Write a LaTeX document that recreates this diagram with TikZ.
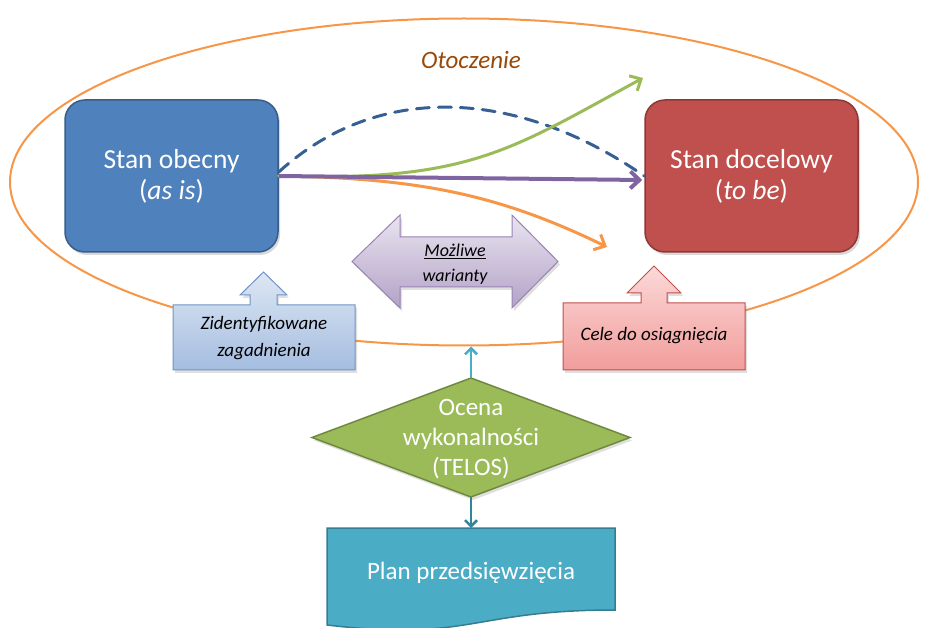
\documentclass[tikz,border=0pt]{standalone}
\usepackage{fontspec}
\setmainfont{Carlito}
\usetikzlibrary{arrows.meta,shapes.geometric,shadows}

\definecolor{envorange}{HTML}{F79646}
\definecolor{envbrown}{HTML}{984807}
\definecolor{asisblue}{HTML}{4F81BD}
\definecolor{asisline}{HTML}{385D8A}
\definecolor{tobered}{HTML}{C0504D}
\definecolor{toberline}{HTML}{8C3836}
\definecolor{pathpurple}{HTML}{8064A2}
\definecolor{pathgreen}{HTML}{9BBB59}
\definecolor{pathdash}{HTML}{376092}
\definecolor{varitop}{HTML}{E9E4F0}
\definecolor{varibot}{HTML}{B3A2C7}
\definecolor{issuetop}{HTML}{DDE7F3}
\definecolor{issuebot}{HTML}{A5BDE0}
\definecolor{issueline}{HTML}{6F93C6}
\definecolor{goaltop}{HTML}{FBD9D8}
\definecolor{goalbot}{HTML}{F19D9B}
\definecolor{goalline}{HTML}{C0504D}
\definecolor{telosgreen}{HTML}{9BBB59}
\definecolor{telosline}{HTML}{71893F}
\definecolor{planteal}{HTML}{4BACC6}
\definecolor{planline}{HTML}{357D91}
\definecolor{upteal}{HTML}{4BACC6}
\definecolor{downteal}{HTML}{31859C}

\tikzset{
  statebox/.style={rounded corners=20pt, minimum width=213pt, minimum height=152pt,
    line width=1.5pt, text=white, align=center, inner sep=0pt,
    font=\fontsize{27.5}{31}\selectfont,
    drop shadow={opacity=0.3, shadow xshift=2pt, shadow yshift=-3pt}},
  plainlabel/.style={inner sep=0pt, align=center},
  chev/.style={-{Straight Barb[length=9pt, width=17pt]}},
  pathline/.style={line width=3pt, line cap=round},
  calloutshape/.style={line width=1pt,
    drop shadow={opacity=0.25, shadow xshift=2pt, shadow yshift=-3pt}},
  smallitalic/.style={plainlabel, font=\fontsize{19}{27}\selectfont\itshape},
}

\begin{document}
\begin{tikzpicture}[x=1pt, y=-1pt]
\useasboundingbox (0,0) rectangle (927,628);

% surroundings
\node[draw=envorange, line width=2pt, ellipse, minimum width=908pt,
      minimum height=327pt, inner sep=0pt] (env) at (464,182) {};
\node[plainlabel, text=envbrown, font=\fontsize{25}{30}\selectfont\itshape]
      (envlabel) at (471,60) {Otoczenie};

% current and target state
\node[statebox, fill=asisblue, draw=asisline] (asis) at (171.5,176)
      {Stan obecny\\(\textit{as is})};
\node[statebox, fill=tobered, draw=toberline] (tobe) at (751.5,176)
      {Stan docelowy\\(\textit{to be})};

% possible paths between the states
\coordinate (upEnd) at (643,78);
\coordinate (downEnd) at (607,247);
\draw[pathline, draw=pathdash, dash pattern=on 13pt off 9pt]
      ([yshift=4pt]asis.east) .. controls (380,80) and (520,90) .. (tobe.west);
\draw[pathline, draw=envorange, chev]
      (asis.east) .. controls (420,178) and (500,195) .. (downEnd);
\draw[pathline, draw=pathgreen, chev]
      (asis.east) .. controls (470,182) and (510,150) .. (upEnd);
\draw[line width=4pt, draw=pathpurple, chev] (asis.east) -- ([xshift=-2pt,yshift=-4pt]tobe.west);

% possible variants (double arrow)
\path[calloutshape, draw=pathpurple!80, top color=varitop, bottom color=varibot]
  (352,261.5) -- (400,215) -- (400,237) -- (512,237) -- (512,215) -- (558,261.5)
  -- (512,308) -- (512,287) -- (400,287) -- (400,308) -- cycle;
\node[smallitalic, font=\fontsize{18}{25}\selectfont\itshape] (variants) at (455,264)
      {\underline{Możliwe}\\warianty};

% identified issues callout
\path[calloutshape, draw=issueline, top color=issuetop, bottom color=issuebot]
  (173,305) -- (250,305) -- (250,295) -- (240,295) -- (263.5,272) -- (287,295)
  -- (277,295) -- (277,305) -- (355,305) -- (355,370) -- (173,370) -- cycle;
\node[smallitalic] (issues) at (264,338) {Zidentyfikowane\\zagadnienia};

% goals callout
\path[calloutshape, draw=goalline, top color=goaltop, bottom color=goalbot]
  (563,303) -- (641,303) -- (641,293) -- (627,293) -- (654,266) -- (681,293)
  -- (667,293) -- (667,303) -- (745,303) -- (745,370) -- (563,370) -- cycle;
\node[smallitalic] (goals) at (654,336) {Cele do osiągnięcia};

% feasibility assessment
\coordinate (dtop) at (471,378);
\coordinate (dbot) at (471,497);
\path[draw=telosline, fill=telosgreen, line width=1.5pt,
      drop shadow={opacity=0.25, shadow xshift=2pt, shadow yshift=-3pt}]
  (dtop) -- (630,437.5) -- (dbot) -- (312,437.5) -- cycle;
\node[plainlabel, text=white, font=\fontsize{25}{30}\selectfont] (telos) at (471,439)
      {Ocena\\wykonalności\\(TELOS)};

% project plan (document shape)
\path[draw=planline, fill=planteal, line width=1.5pt]
  (327,528) -- (615,528) -- (615,610) .. controls (471,610) and (471,642) .. (327,625) -- cycle;
\coordinate (plantop) at (471,528);
\node[plainlabel, text=white, font=\fontsize{25}{30}\selectfont] (plan) at (471,573)
      {Plan przedsięwzięcia};

% links of the assessment
\draw[line width=2.5pt, draw=upteal, -{Straight Barb[length=6pt, width=12pt]}]
  (dtop) -- (dtop |- env.south);
\draw[line width=2.5pt, draw=downteal, -{Straight Barb[length=6pt, width=12pt]}]
  (dbot) -- (plantop);
\end{tikzpicture}
\end{document}
